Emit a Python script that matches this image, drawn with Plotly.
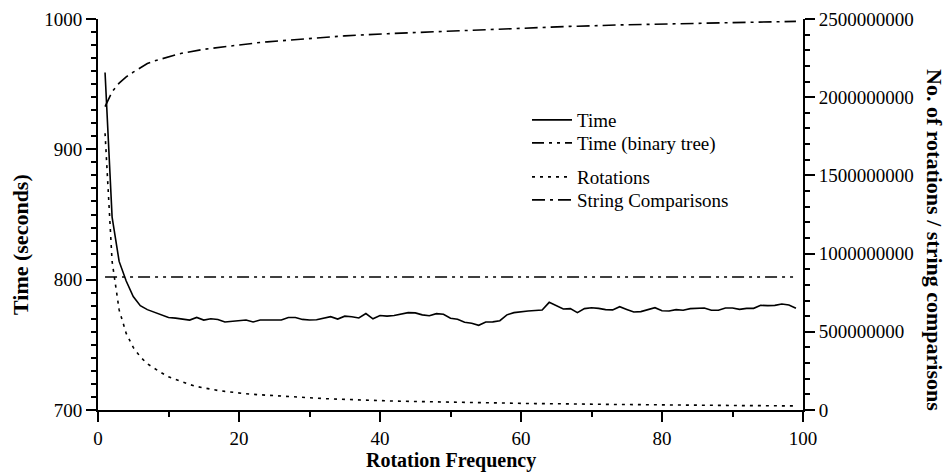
import plotly.graph_objects as go

# ---- data ----
freq = list(range(1, 100))

time_s = [959, 848, 814, 799, 787, 780, 777, 775, 773, 771,
          770.5, 769.5, 769, 771, 769, 770, 769.5, 767.5, 768, 769,
          769, 767.5, 769, 769, 769, 769, 771, 771, 769.5, 769,
          769.3, 770.6, 771.6, 769.8, 772, 771.6, 770.6, 774, 770, 772.5,
          772, 772.5, 773.5, 774.7, 774.5, 773, 772.3, 773.9, 773.5, 770.4,
          769.6, 767.3, 766.5, 765, 767.5, 767.6, 768.5, 773, 774.7, 775.5,
          776, 776.3, 776.7, 782.6, 780, 777.5, 777.8, 774.7, 777.8, 778.5,
          778, 777, 776.8, 779.3, 777.2, 775.2, 775.5, 777, 778.5, 776.2,
          776, 777, 776.5, 777.8, 778, 778.3, 776.5, 776.5, 778.3, 778.3,
          777.2, 778, 778, 780.3, 780.1, 780.3, 781.3, 780.6, 778]

bt_freq = [1, 99]
time_bt = [802, 802]

rotations = [1.77e9, 0.95e9, 0.64e9, 0.49e9, 0.40e9, 0.34e9, 0.295e9, 0.265e9, 0.238e9, 0.212e9,
             0.195e9, 0.178e9, 0.163e9, 0.150e9, 0.141e9, 0.132e9, 0.125e9, 0.119e9, 0.113e9, 0.108e9,
             0.104e9, 0.100e9, 0.097e9, 0.093e9, 0.090e9, 0.087e9, 0.084e9, 0.081e9, 0.079e9, 0.077e9,
             0.075e9, 0.073e9, 0.071e9, 0.069e9, 0.067e9, 0.065e9, 0.063e9, 0.062e9, 0.060e9, 0.059e9,
             0.058e9, 0.057e9, 0.056e9, 0.055e9, 0.054e9, 0.053e9, 0.053e9, 0.052e9, 0.051e9, 0.050e9,
             0.049e9, 0.048e9, 0.048e9, 0.047e9, 0.046e9, 0.045e9, 0.045e9, 0.044e9, 0.043e9, 0.043e9,
             0.042e9, 0.041e9, 0.041e9, 0.040e9, 0.040e9, 0.039e9, 0.039e9, 0.038e9, 0.038e9, 0.037e9,
             0.037e9, 0.036e9, 0.036e9, 0.035e9, 0.035e9, 0.034e9, 0.034e9, 0.034e9, 0.033e9, 0.033e9,
             0.032e9, 0.032e9, 0.032e9, 0.031e9, 0.031e9, 0.030e9, 0.030e9, 0.030e9, 0.029e9, 0.029e9,
             0.029e9, 0.028e9, 0.028e9, 0.028e9, 0.027e9, 0.027e9, 0.027e9, 0.026e9, 0.026e9]

string_cmp = [1.940e9, 2.035e9, 2.090e9, 2.130e9, 2.160e9, 2.190e9, 2.215e9, 2.232e9, 2.246e9, 2.258e9,
              2.270e9, 2.282e9, 2.291e9, 2.299e9, 2.306e9, 2.312e9, 2.318e9, 2.324e9, 2.330e9, 2.336e9,
              2.341e9, 2.346e9, 2.350e9, 2.354e9, 2.358e9, 2.362e9, 2.366e9, 2.370e9, 2.373e9, 2.377e9,
              2.380e9, 2.383e9, 2.386e9, 2.389e9, 2.392e9, 2.395e9, 2.398e9, 2.400e9, 2.402e9, 2.404e9,
              2.406e9, 2.408e9, 2.410e9, 2.412e9, 2.414e9, 2.416e9, 2.418e9, 2.420e9, 2.422e9, 2.424e9,
              2.426e9, 2.428e9, 2.430e9, 2.432e9, 2.434e9, 2.436e9, 2.437e9, 2.439e9, 2.441e9, 2.442e9,
              2.444e9, 2.445e9, 2.447e9, 2.448e9, 2.450e9, 2.451e9, 2.453e9, 2.454e9, 2.456e9, 2.457e9,
              2.458e9, 2.460e9, 2.461e9, 2.462e9, 2.463e9, 2.464e9, 2.465e9, 2.466e9, 2.467e9, 2.468e9,
              2.469e9, 2.470e9, 2.472e9, 2.473e9, 2.474e9, 2.475e9, 2.476e9, 2.477e9, 2.478e9, 2.479e9,
              2.480e9, 2.480e9, 2.481e9, 2.482e9, 2.483e9, 2.483e9, 2.484e9, 2.485e9, 2.485e9]

x_ticks = [0, 20, 40, 60, 80, 100]
left_ticks = [700, 800, 900, 1000]
right_ticks = [0, 500000000, 1000000000, 1500000000, 2000000000, 2500000000]

FONT = "Liberation Serif, Times New Roman, serif"
BLACK = "#000000"

fig = go.Figure()
fig.add_trace(go.Scatter(x=freq, y=time_s, mode="lines", name="Time", legend="legend",
                         line=dict(color=BLACK, width=1.6, dash="solid")))
fig.add_trace(go.Scatter(x=bt_freq, y=time_bt, mode="lines", name="Time (binary tree)",
                         legend="legend2",
                         line=dict(color=BLACK, width=1.6, dash="12px,5px,3px,5px,3px,5px")))
fig.add_trace(go.Scatter(x=freq, y=rotations, mode="lines", name="Rotations",
                         legend="legend3", yaxis="y2",
                         line=dict(color=BLACK, width=1.6, dash="3px,5px")))
fig.add_trace(go.Scatter(x=freq, y=string_cmp, mode="lines", name="String Comparisons",
                         legend="legend4", yaxis="y2",
                         line=dict(color=BLACK, width=1.6, dash="13px,5px,3px,5px")))

axis_common = dict(showgrid=False, zeroline=False, showline=True, linecolor=BLACK,
                   linewidth=2, ticks="outside", ticklen=10, tickwidth=1.5, tickcolor=BLACK,
                   automargin=False,
                   tickfont=dict(family=FONT, size=19, color=BLACK))
minor_common = dict(ticks="outside", ticklen=5, tickwidth=1.5, tickcolor=BLACK)

PLOT_L, PLOT_R, PLOT_T, PLOT_B = 98, 803, 19, 410
W, H = 948, 472


def py(ypx):
    return (PLOT_B - ypx) / (PLOT_B - PLOT_T)


def px(xpx):
    return (xpx - PLOT_L) / (PLOT_R - PLOT_L)


leg_x = px(527)
leg_common = dict(x=leg_x, xanchor="left", yanchor="middle", bgcolor="rgba(0,0,0,0)",
                  borderwidth=0, itemwidth=40,
                  font=dict(family=FONT, size=19, color=BLACK))

fig.update_layout(
    width=W, height=H,
    margin=dict(l=PLOT_L, r=W - PLOT_R, t=PLOT_T, b=H - PLOT_B),
    paper_bgcolor="white", plot_bgcolor="white",
    font=dict(family=FONT, size=19, color=BLACK),
    xaxis=dict(range=[0, 100], tickvals=x_ticks, minor=dict(dtick=10, **minor_common),
               **axis_common),
    yaxis=dict(range=[700, 1000], tickvals=left_ticks, minor=dict(dtick=10, **minor_common),
               **axis_common),
    yaxis2=dict(range=[0, 2500000000], tickvals=right_ticks, tickformat="d",
                overlaying="y", side="right", anchor="x",
                minor=dict(dtick=100000000, **minor_common),
                **axis_common),
    legend=dict(y=py(120), **leg_common),
    legend2=dict(y=py(143), **leg_common),
    legend3=dict(y=py(177), **leg_common),
    legend4=dict(y=py(200), **leg_common),
    showlegend=True,
)

fig.add_annotation(text="<b>Rotation Frequency</b>", xref="paper", yref="paper",
                   x=0.5, y=py(460), xanchor="center", yanchor="middle",
                   showarrow=False, font=dict(family=FONT, size=20, color=BLACK))
fig.add_annotation(text="<b>Time (seconds)</b>", xref="paper", yref="paper",
                   x=px(21), y=py(245), xanchor="center", yanchor="middle",
                   textangle=-90, showarrow=False, font=dict(family=FONT, size=22, color=BLACK))
fig.add_annotation(text="<b>No. of rotations / string comparisons</b>", xref="paper", yref="paper",
                   x=px(935), y=py(240), xanchor="center", yanchor="middle",
                   textangle=90, showarrow=False, font=dict(family=FONT, size=22, color=BLACK))

fig.write_html("out.html", config={"displayModeBar": False},
               post_script="document.body.style.margin='0px';document.body.style.overflow='hidden';")
